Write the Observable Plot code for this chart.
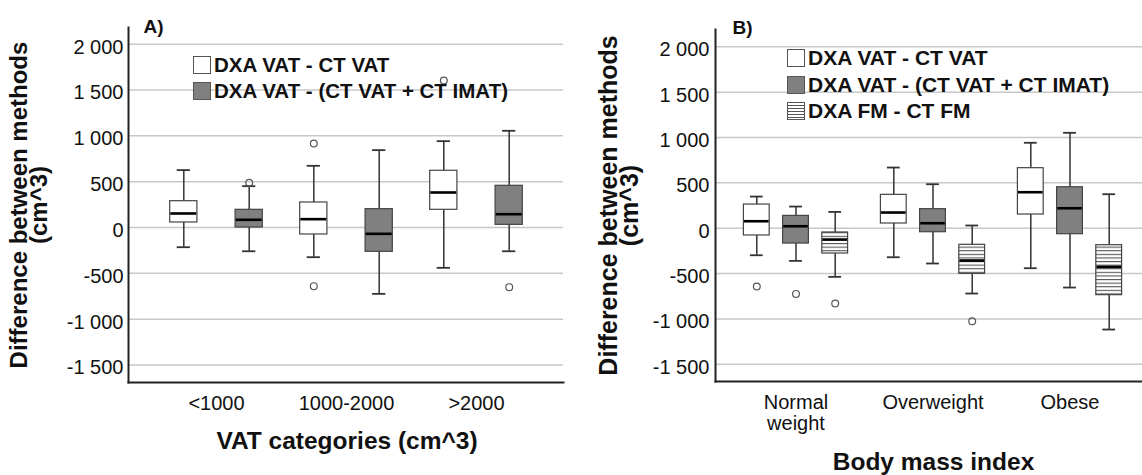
<!DOCTYPE html>
<html><head><meta charset="utf-8">
<script src="https://cdn.jsdelivr.net/npm/d3@7"></script>
<script src="https://cdn.jsdelivr.net/npm/@observablehq/plot@0.6"></script>
<style>
body{margin:0;background:#fff;font-family:"Liberation Sans",Arial,sans-serif;}
#wrap{position:relative;width:1142px;height:475px;display:flex;overflow:hidden;}
.panel{position:relative;width:571px;height:475px;flex:none;}
.panel svg{display:block;}
.legend{position:absolute;font-weight:bold;color:#111;}
.row{display:flex;align-items:center;white-space:nowrap;}
.sw{box-sizing:border-box;width:18px;height:18px;border:1px solid #555;margin-right:3px;flex:none;}
</style></head><body>
<div id="wrap"><div class="panel" id="pa"></div><div class="panel" id="pb"></div></div>
<script>
// ---------- data ----------
const yTicks = [-1500, -1000, -500, 0, 500, 1000, 1500, 2000];

const catsA = ["<1000", "1000-2000", ">2000"];
const seriesA = ["DXA VAT - CT VAT", "DXA VAT - (CT VAT + CT IMAT)"];
// [lower whisker, Q1, median, Q3, upper whisker] per category
const aVat     = [[-215, 55, 153, 287, 626], [-324, -76, 91, 273, 673], [-440, 193, 382, 619, 942]];
const aVatImat = [[-259, 0, 84, 193, 451], [-724, -265, -69, 200, 844], [-259, 29, 145, 455, 1055]];
// [category index, series index, value]
const aOutliers = [[1, 0, 917], [1, 0, -640], [2, 0, 1604], [0, 1, 488], [2, 1, -651]];

const catsB = ["Normal\nweight", "Overweight", "Obese"];
const seriesB = ["DXA VAT - CT VAT", "DXA VAT - (CT VAT + CT IMAT)", "DXA FM - CT FM"];
const bVat     = [[-298, -80, 77, 261, 349], [-320, 52, 173, 368, 669], [-441, 151, 397, 662, 942]];
const bVatImat = [[-360, -169, 22, 136, 239], [-389, -44, 55, 210, 485], [-654, -66, 220, 452, 1052]];
const bFm      = [[-536, -279, -125, -47, 180], [-720, -503, -356, -183, 30], [-1117, -738, -426, -187, 375]];
const bOutliers = [[0, 0, -643], [0, 1, -724], [0, 2, -830], [1, 2, -1025]];

const yTitle = "Difference between methods\n(cm^3)";

// ---------- drawing ----------
const fills = ["#ffffff", "#808080", "url(#stripes)"];
const swatchBg = ["#ffffff", "#808080", "repeating-linear-gradient(to bottom,#fff 0,#fff 1.6px,#555 1.6px,#555 3px)"];
const fmt = d => (d < 0 ? "-" : "") + d3.format(",")(Math.abs(d)).replace(/,/g, " ");

function rowsOf(cats, stats) {
  return stats.map(arr => arr.map((s, ci) => ({cat: cats[ci], lo: s[0], q1: s[1], med: s[2], q3: s[3], hi: s[4]})));
}

function panel(cfg) {
  const bySeries = rowsOf(cfg.cats, cfg.stats);
  const range = cfg.xRange || [cfg.ml, 571 - cfg.mr];
  const bw = d3.scaleBand().domain(cfg.cats).range(range).paddingInner(0).paddingOuter(cfg.po).bandwidth();
  const n = cfg.series.length;
  const boxIn = bw / 2 - cfg.boxW / 2;
  const capIn = bw / 2 - cfg.boxW / 4;
  const marks = [Plot.ruleY(yTicks, {stroke: "#c8c8c8", strokeWidth: 1.5})];
  bySeries.forEach((rows, si) => {
    const dx = (si - (n - 1) / 2) * cfg.step;
    const outs = cfg.outliers.filter(o => o[1] === si).map(([ci, , v]) => ({cat: cfg.cats[ci], v}));
    marks.push(
      Plot.ruleX(rows, {x: "cat", y1: "lo", y2: "hi", dx, stroke: "#333", strokeWidth: 1.5}),
      Plot.tickY(rows, {x: "cat", y: "lo", dx, insetLeft: capIn, insetRight: capIn, stroke: "#333", strokeWidth: 1.8}),
      Plot.tickY(rows, {x: "cat", y: "hi", dx, insetLeft: capIn, insetRight: capIn, stroke: "#333", strokeWidth: 1.8}),
      Plot.barY(rows, {x: "cat", y1: "q1", y2: "q3", dx, insetLeft: boxIn, insetRight: boxIn, fill: fills[si], stroke: "#444", strokeWidth: 1.2}),
      Plot.tickY(rows, {x: "cat", y: "med", dx, insetLeft: boxIn + 0.6, insetRight: boxIn + 0.6, stroke: "#000", strokeWidth: 2.6}),
      Plot.dot(outs, {x: "cat", y: "v", dx, r: 3.4, stroke: "#555", strokeWidth: 1.2, fill: "none"})
    );
  });
  marks.push(
    Plot.frame({anchor: "left", stroke: "#222", strokeWidth: 2}),
    Plot.frame({anchor: "bottom", stroke: "#222", strokeWidth: 2}),
    Plot.axisY({ticks: yTicks, tickFormat: fmt, tickSize: 0, tickPadding: cfg.yPad, label: null, fontSize: 20, dy: 3, fill: "#111"}),
    Plot.axisX({anchor: "bottom", tickSize: 0, tickPadding: 13, label: null, fontSize: 20, lineHeight: 1.05, fill: "#111"}),
    Plot.text([yTitle], {text: d => d, frameAnchor: "left", rotate: -90, dx: cfg.yTitleDx,
      fontWeight: "bold", fontSize: cfg.yTitleSize, lineHeight: 0.86, textAnchor: "middle", lineAnchor: "middle", fill: "#111"}),
    Plot.text([cfg.xTitle], {text: d => d, frameAnchor: "bottom", dx: cfg.xTitleDx, dy: cfg.xTitleDy,
      lineAnchor: "middle", textAnchor: "middle", fontWeight: "bold", fontSize: 24.5, fill: "#111"}),
    Plot.text([cfg.tag], {text: d => d, frameAnchor: "top-left", textAnchor: "start", lineAnchor: "top",
      dx: cfg.tagDx, dy: cfg.tagDy, fontWeight: "bold", fontSize: 19, fill: "#111"})
  );
  const svg = Plot.plot({
    width: 571, height: 475,
    marginLeft: cfg.ml, marginRight: cfg.mr, marginTop: cfg.mt, marginBottom: cfg.mb,
    style: {fontFamily: "'Liberation Sans', Arial, sans-serif", fontSize: "20px", color: "#111", background: "transparent", overflow: "visible"},
    x: {domain: cfg.cats, paddingInner: 0, paddingOuter: cfg.po, range},
    y: {domain: cfg.yDomain},
    marks
  });
  const defs = d3.select(svg).insert("defs", ":first-child");
  const pat = defs.append("pattern").attr("id", "stripes").attr("patternUnits", "userSpaceOnUse")
    .attr("width", 8).attr("height", 3.6);
  pat.append("rect").attr("width", 8).attr("height", 3.6).attr("fill", "#fff");
  pat.append("rect").attr("y", 1.8).attr("width", 8).attr("height", 1.1).attr("fill", "#555");
  const host = document.getElementById(cfg.host);
  host.appendChild(svg);
  // legend
  const lg = document.createElement("div");
  lg.className = "legend";
  lg.style.left = cfg.legend.left + "px";
  lg.style.top = cfg.legend.top + "px";
  lg.style.fontSize = cfg.legend.size + "px";
  cfg.series.forEach((s, si) => {
    const r = document.createElement("div");
    r.className = "row";
    r.style.height = cfg.legend.rowH + "px";
    const sw = document.createElement("div");
    sw.className = "sw";
    sw.style.background = swatchBg[si];
    const t = document.createElement("span");
    t.textContent = s;
    r.appendChild(sw); r.appendChild(t);
    lg.appendChild(r);
  });
  host.appendChild(lg);
}

panel({
  host: "pa", cats: catsA, series: seriesA, stats: [aVat, aVatImat], outliers: aOutliers,
  ml: 128, mr: 8, mt: 27, mb: 93, yDomain: [-1691, 2182],
  po: 0.163, step: 65.4, boxW: 28, yPad: 5,
  yTitleDx: -98, yTitleSize: 24,
  xTitle: "VAT categories (cm^3)", xTitleDx: 1, xTitleDy: 58.3,
  tag: "A)", tagDx: 15, tagDy: -8.5,
  legend: {left: 193, top: 52, size: 20.5, rowH: 26}
});

panel({
  host: "pb", cats: catsB, series: seriesB, stats: [bVat, bVatImat, bFm], outliers: bOutliers,
  ml: 144, mr: 0, mt: 29, mb: 94, yDomain: [-1690, 2191],
  xRange: [144, 579.5], po: 0.087, step: 39.2, boxW: 26, yPad: 6,
  yTitleDx: -95, yTitleSize: 25,
  xTitle: "Body mass index", xTitleDx: 4.5, xTitleDy: 80.5,
  tag: "B)", tagDx: 17, tagDy: -9.5,
  legend: {left: 216, top: 45, size: 21, rowH: 26.5}
});
</script>
</body></html>
